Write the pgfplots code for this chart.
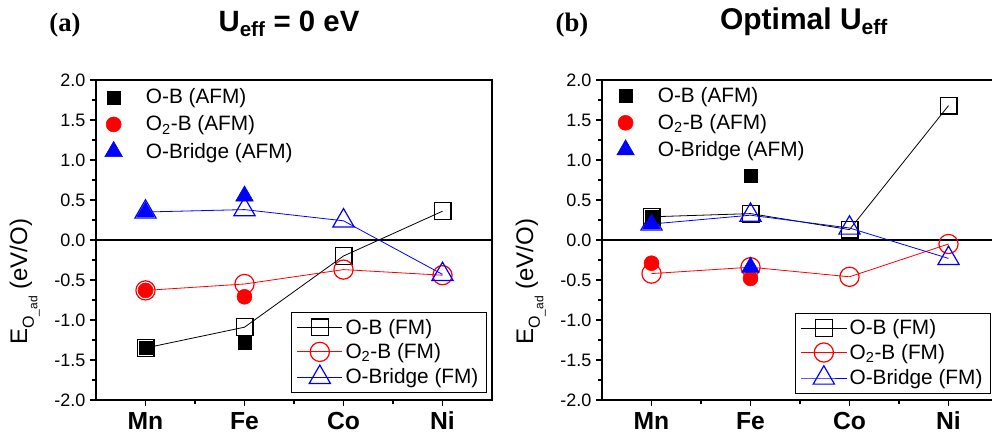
\documentclass[border=0pt]{standalone}
\usepackage{fontspec}
\setmainfont{Liberation Sans}
\newfontfamily\timesf{Liberation Serif}
\usepackage{pgfplots}
\pgfplotsset{compat=1.18}

\newcommand{\ylab}{E\raisebox{-0.28em}{\fontsize{12}{12}\selectfont O\raisebox{-0.22em}{\fontsize{9}{9}\selectfont\_ad}} (eV/O)}

\pgfplotsset{
  panel/.style={
    scale only axis, width=297pt, height=240pt,
    xmin=0.5, xmax=4.5, ymin=-2, ymax=2,
    xtick={1,2,3,4}, xticklabels={Mn,Fe,Co,Ni},
    minor xtick={1.5,2.5,3.5},
    ytick={-2,-1.5,-1,-0.5,0,0.5,1,1.5,2},
    minor ytick={-1.75,-1.25,-0.75,-0.25,0.25,0.75,1.25,1.75},
    tick align=outside, tick pos=left,
    major tick length=4.5pt, minor tick length=3pt,
    axis line style={line width=0.9pt},
    every tick/.style={black, line width=0.8pt},
    xticklabel style={font=\bfseries\fontsize{18.5}{18.5}\selectfont, yshift=-1pt},
    yticklabel style={font=\fontsize{13.5}{13.5}\selectfont, /pgf/number format/.cd, fixed, fixed zerofill, precision=1, assume math mode=true},
    ylabel={\ylab},
    y label style={at={(axis description cs:-0.18,0.37)}, anchor=center, font=\fontsize{18}{18}\selectfont},
    clip=false,
  },
  overlay/.style={
    scale only axis, width=297pt, height=240pt,
    xmin=0.5, xmax=4.5, ymin=-2, ymax=2, hide axis, clip=false,
  },
  fmleg/.style={
    legend style={draw=black, line width=0.6pt, fill=white, font=\fontsize{15.6}{16}\selectfont,
      inner xsep=4pt, inner ysep=3pt, row sep=1.5pt, cells={anchor=west}},
    legend image code/.code={\draw[mark repeat=2,mark phase=2] plot coordinates {(0pt,0pt)(17pt,0pt)(34pt,0pt)};},
  },
  afmleg/.style={
    legend style={draw=none, fill=none, font=\fontsize{15.6}{16}\selectfont,
      inner xsep=2pt, inner ysep=2pt, row sep=3.5pt, cells={anchor=west}},
    legend image code/.code={\draw plot coordinates {(8pt,0pt)};},
  },
  obfm/.style={black, line width=0.6pt, mark=square, mark size=6.3pt, mark options={fill=white, line width=0.9pt, solid}},
  o2fm/.style={red, line width=0.6pt, mark=o, mark size=7.2pt, mark options={fill=white, line width=0.9pt, solid}},
  brfm/.style={blue, line width=0.6pt, mark=triangle, mark size=9.2pt, mark options={fill=white, line width=0.9pt, solid}},
  obafm/.style={only marks, black, mark=square*, mark size=4.9pt},
  o2afm/.style={only marks, red, mark=*, mark size=5.6pt},
  brafm/.style={only marks, blue, mark=triangle*, mark size=7.6pt},
}

\begin{document}
\begin{tikzpicture}
\useasboundingbox (0pt,0pt) rectangle (744pt,327pt);
\clip (0pt,0pt) rectangle (744pt,327pt);

% ---------- panel (a) ----------
\begin{axis}[panel, fmleg, at={(72pt,27pt)}, anchor=south west,
  legend style={at={(axis description cs:0.987,0.022)}, anchor=south east}]
\addplot[black, line width=0.9pt, forget plot] coordinates {(0.5,0) (4.5,0)};
\addplot[obfm] coordinates {(1,-1.35) (2,-1.09) (3,-0.20) (4,0.36)};
\addlegendentry{O-B (FM)}
\addplot[o2fm] coordinates {(1,-0.63) (2,-0.55) (3,-0.37) (4,-0.44)};
\addlegendentry{O\textsubscript{2}-B (FM)}
\addplot[brfm] coordinates {(1,0.35) (2,0.38) (3,0.24) (4,-0.43)};
\addlegendentry{O-Bridge (FM)}
\end{axis}
\begin{axis}[overlay, afmleg, at={(72pt,27pt)}, anchor=south west,
  legend style={at={(axis description cs:0.015,0.99)}, anchor=north west}]
\addplot[obafm] coordinates {(1,-1.35) (2,-1.29)};
\addlegendentry{\quad O-B (AFM)}
\addplot[o2afm] coordinates {(1,-0.63) (2,-0.71)};
\addlegendentry{\quad O\textsubscript{2}-B (AFM)}
\addplot[brafm] coordinates {(1,0.35) (2,0.55)};
\addlegendentry{\quad O-Bridge (AFM)}
\end{axis}

% ---------- panel (b) ----------
\begin{axis}[panel, fmleg, at={(451.5pt,27pt)}, anchor=south west,
  legend style={at={(axis description cs:0.982,0.02)}, anchor=south east}]
\addplot[black, line width=0.9pt, forget plot] coordinates {(0.5,0) (4.5,0)};
\addplot[obfm] coordinates {(1,0.29) (2,0.33) (3,0.13) (4,1.68)};
\addlegendentry{O-B (FM)}
\addplot[o2fm] coordinates {(1,-0.42) (2,-0.34) (3,-0.46) (4,-0.05)};
\addlegendentry{O\textsubscript{2}-B (FM)}
\addplot[brfm] coordinates {(1,0.20) (2,0.31) (3,0.15) (4,-0.23)};
\addlegendentry{O-Bridge (FM)}
\end{axis}
\begin{axis}[overlay, afmleg, at={(451.5pt,27pt)}, anchor=south west,
  legend style={at={(axis description cs:0.03,0.995)}, anchor=north west}]
\addplot[obafm] coordinates {(1,0.29) (2,0.80)};
\addlegendentry{\quad O-B (AFM)}
\addplot[o2afm] coordinates {(1,-0.29) (2,-0.48)};
\addlegendentry{\quad O\textsubscript{2}-B (AFM)}
\addplot[brafm] coordinates {(1,0.20) (2,-0.34)};
\addlegendentry{\quad O-Bridge (AFM)}
\end{axis}

% ---------- titles ----------
\node[font=\timesf\bfseries\fontsize{20}{20}\selectfont] at (48.75pt,308pt) {(a)};
\node[font=\bfseries\fontsize{22}{22}\selectfont] at (216.75pt,309pt) {U\textsubscript{eff} = 0 eV};
\node[font=\timesf\bfseries\fontsize{20}{20}\selectfont] at (429pt,308pt) {(b)};
\node[font=\bfseries\fontsize{22.5}{22}\selectfont] at (603pt,311pt) {Optimal U\textsubscript{eff}};
\end{tikzpicture}
\end{document}
